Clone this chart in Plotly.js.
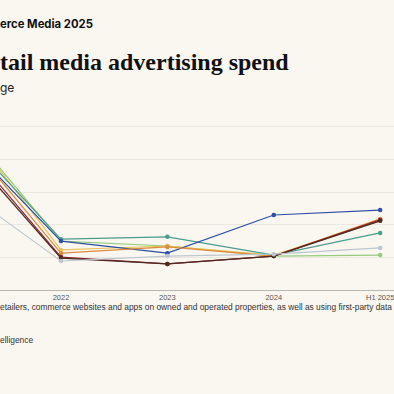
<!DOCTYPE html>
<html><head><meta charset="utf-8">
<script src="https://cdn.plot.ly/plotly-3.0.1.min.js"></script>
<style>html,body{margin:0;padding:0;background:#faf7f1;}#chart{width:394px;height:394px;}</style>
</head><body><div id="chart"></div>
<script>
const periods = [0, 1, 2, 3, 4];
const tickLabels = ["2021", "2022", "2023", "2024", "H1 2025"];
const seriesNames = ["Light green", "Yellow", "Teal", "Blue", "Orange", "Dark red", "Brown", "Grey"];
const lightGreen = [54.0, 15.0, 13.5, 10.4, 10.7];
const yellow     = [54.9, 12.3, 13.5, 10.7, 21.2];
const teal       = [50.9, 15.6, 16.3, 10.7, 17.5];
const blue       = [48.8, 15.0, 11.3, 23.0, 24.5];
const orange     = [50.6, 11.3, 13.2, 10.4, 21.8];
const darkRed    = [48.5, 10.1, 8.0, 10.4, 21.5];
const brown      = [46.9, 9.8, 8.0, 10.4, 21.2];
const grey       = [32.5, 8.9, 10.4, 11.0, 12.9];
const seriesData = [lightGreen, yellow, teal, blue, orange, darkRed, brown, grey];
const colors = ["#97cb7e", "#e8c45e", "#4c9c8c", "#2d4fa3", "#dc8a3c", "#8e1f2c", "#4d2a22", "#bcc6cf"];

const traces = seriesData.map((vals, i) => ({
  x: periods, y: vals, name: seriesNames[i], type: "scatter", mode: "lines+markers",
  line: {color: colors[i], width: 1.2}, marker: {color: colors[i], size: 4.5},
  cliponaxis: true, showlegend: false, hoverinfo: "skip"
}));

const pxToPaper = py => (290 - py) / 180;
const layout = {
  width: 394, height: 394,
  margin: {l: 0, r: 0, t: 110, b: 104},
  paper_bgcolor: "#faf7f1", plot_bgcolor: "#faf7f1",
  showlegend: false,
  xaxis: {
    range: [0.427, 4.13], tickvals: [1, 2, 3, 4], ticktext: tickLabels.slice(1),
    showgrid: false, zeroline: false, showline: true, linecolor: "#bcb7ae", linewidth: 1,
    ticks: "", ticklabeloverflow: "allow",
    tickfont: {family: "Liberation Sans, Arial", size: 7.5, color: "#555"}
  },
  yaxis: {
    range: [0, 55.2], dtick: 10, showticklabels: false, zeroline: false,
    gridcolor: "#ebe6de", gridwidth: 1, showline: false, ticks: ""
  },
  annotations: [
    {text: "<b>erce Media 2025</b>", xref: "paper", yref: "paper", x: 0, y: pxToPaper(24), xanchor: "left", yanchor: "middle", xshift: -2, showarrow: false, font: {family: "Inter, Liberation Sans", size: 11.3, color: "#111"}},
    {text: "<b>tail media advertising spend</b>", xref: "paper", yref: "paper", x: 0, y: pxToPaper(62), xanchor: "left", yanchor: "middle", xshift: -2, showarrow: false, font: {family: "Liberation Serif, DejaVu Serif", size: 24, color: "#111"}},
    {text: "ge", xref: "paper", yref: "paper", x: 0, y: pxToPaper(87), xanchor: "left", yanchor: "middle", xshift: -2, showarrow: false, font: {family: "Inter, Liberation Sans", size: 12, color: "#222"}},
    {text: "etailers, commerce websites and apps on owned and operated properties, as well as using first-party data", xref: "paper", yref: "paper", x: 0, y: pxToPaper(307), xanchor: "left", yanchor: "middle", xshift: -2, showarrow: false, font: {family: "Liberation Sans, Arial", size: 8.4, color: "#333"}},
    {text: "elligence", xref: "paper", yref: "paper", x: 0, y: pxToPaper(340), xanchor: "left", yanchor: "middle", xshift: -2, showarrow: false, font: {family: "Liberation Sans, Arial", size: 8.4, color: "#333"}}
  ]
};
Plotly.newPlot("chart", traces, layout, {displayModeBar: false, staticPlot: true});
</script></body></html>
